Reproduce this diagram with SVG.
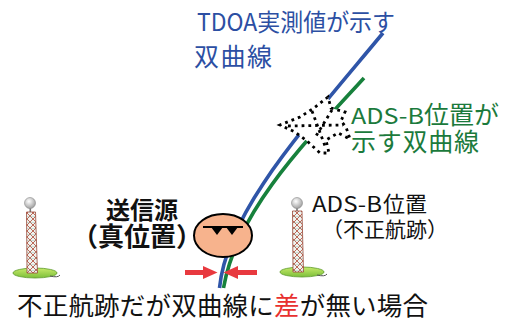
<svg xmlns="http://www.w3.org/2000/svg" width="506" height="321" viewBox="0 0 506 321">
  <style>
    .t { font-family: "Noto Sans CJK JP", "Noto Sans", sans-serif; font-size: 25px; }
    .lat { font-size: 22px; }
    .blue { fill: #2c4fa3; }
    .green { fill: #1b7a3c; }
    .black { fill: #111; }
    .red { fill: #e8312f; }
    .curve { fill: none; stroke-width: 3.6; stroke-linecap: butt; }
    .arrow { fill: #e8393f; }
    .dots { fill: none; stroke: #000; stroke-width: 2.8; stroke-dasharray: 2.8 4; }
    .globe { fill: url(#globeGrad); stroke: #8a8a8a; stroke-width: 0.6; }
    .mast { fill: url(#lattice); stroke: #9b4a3a; stroke-width: 0.8; }
    .base { fill: url(#baseGrad); stroke: #5d9a2c; stroke-width: 0.8; }
  </style>
  <defs>
    <radialGradient id="globeGrad" cx="0.4" cy="0.35" r="0.7">
      <stop offset="0" stop-color="#ffffff"/>
      <stop offset="1" stop-color="#9a9a9a"/>
    </radialGradient>
    <linearGradient id="baseGrad" x1="0" y1="0" x2="0" y2="1">
      <stop offset="0" stop-color="#c7ea6a"/>
      <stop offset="1" stop-color="#7cbf3a"/>
    </linearGradient>
    <pattern id="lattice" width="6" height="6" patternUnits="userSpaceOnUse">
      <rect width="6" height="6" fill="#eef3f0"/>
      <path d="M0 0 L6 6 M6 0 L0 6" stroke="#b85a48" stroke-width="0.9"/>
      <path d="M0 0 H6" stroke="#7fa89a" stroke-width="0.6"/>
    </pattern>
  </defs>

  <!-- hyperbola branches -->
  <g id="connectors">
    <path class="curve" stroke="#2f55a8" d="M383,33 C300,133 227,212 219.5,288"/>
    <path class="curve" stroke="#17813c" d="M364,78 C300,147 236,214 223.5,288"/>
  </g>

  <!-- spoofing burst over the ADS-B curve -->
  <g id="burst">
    <path d="M328,97 L314,108 L300,117 L280,125 L295,132 L307,141 L320,153 L329,153 L326,140 L338,133 L350,139 L346,127 L341,121 L345,112 L331,108 Z"
          fill="#fff" stroke="none"/>
    <path class="dots" d="M328,97 L314,108 L300,117 L280,125 L295,132 L307,141 L320,153 L329,153 L326,140 L338,133 L350,139 L346,127 L341,121 L345,112 L331,108 Z"/>
    <path class="dots" d="M288,126 L343,125 M312,111 L325,146 M332,110 L316,136"/>
  </g>

  <!-- receiver tower, left -->
  <g id="tower-left">
    <ellipse class="base" cx="35" cy="273" rx="22" ry="5"/>
    <path d="M50,276 Q58,278 60,275" fill="none" stroke="#555" stroke-width="1"/>
    <rect x="29.5" y="207" width="1.6" height="6" fill="#777"/>
    <polygon class="mast" points="26.5,212 35.5,212 37.5,273 27,273"/>
    <circle class="globe" cx="30" cy="203" r="5.5"/>
  </g>

  <!-- receiver tower, right -->
  <g id="tower-right">
    <ellipse class="base" cx="302" cy="272" rx="22" ry="5"/>
    <path d="M317,275 Q325,277 327,274" fill="none" stroke="#555" stroke-width="1"/>
    <rect x="296.2" y="207" width="1.6" height="6" fill="#777"/>
    <polygon class="mast" points="292.5,211 302,211 303.5,272 293,272"/>
    <circle class="globe" cx="297" cy="203" r="5.5"/>
  </g>

  <!-- true transmitter -->
  <g id="source">
    <ellipse cx="223" cy="235.5" rx="29" ry="21.5" fill="#f7b38d" stroke="#000" stroke-width="2"/>
    <path d="M203,227 H243" stroke="#000" stroke-width="2"/>
    <polygon points="211,227 223,227 217,235" fill="#000"/>
    <polygon points="226,227 238,227 232,235" fill="#000"/>
  </g>

  <!-- zero-difference arrows -->
  <g id="gap-arrows">
    <rect class="arrow" x="185" y="270" width="20" height="5"/>
    <polygon class="arrow" points="203,266 217.5,272.5 203,279"/>
    <rect class="arrow" x="238" y="270" width="19" height="5"/>
    <polygon class="arrow" points="238,266 223.5,272.5 238,279"/>
  </g>

  <!-- labels -->
  <g id="label-tdoa" class="t blue" style="font-size:24px">
    <text x="197" y="31" textLength="198" lengthAdjust="spacingAndGlyphs">TDOA実測値が示す</text>
    <text x="194" y="66" style="font-size:25px" textLength="78" lengthAdjust="spacing">双曲線</text>
  </g>
  <g id="label-adsb-curve" class="t green">
    <text y="124"><tspan class="lat" x="351" textLength="73" lengthAdjust="spacingAndGlyphs">ADS-B</tspan><tspan x="424">位置が</tspan></text>
    <text x="351" y="151" textLength="128" lengthAdjust="spacing">示す双曲線</text>
  </g>
  <g id="label-source" class="t black" font-weight="700">
    <text x="106" y="219" style="font-size:24px">送信源</text>
    <text x="72" y="246" style="font-size:26px">（真位置）</text>
  </g>
  <g id="label-adsb-pos" class="t black" style="font-size:22px">
    <text y="212"><tspan class="lat" x="312" style="font-size:21px" textLength="70" lengthAdjust="spacingAndGlyphs">ADS-B</tspan><tspan x="383">位置</tspan></text>
    <text x="322" y="237" style="font-size:21px">（不正航跡）</text>
  </g>
  <g id="caption" class="t black" style="font-size:25.5px">
    <text x="17" y="315" textLength="411" lengthAdjust="spacing">不正航跡だが双曲線に<tspan class="red">差</tspan>が無い場合</text>
  </g>
</svg>
